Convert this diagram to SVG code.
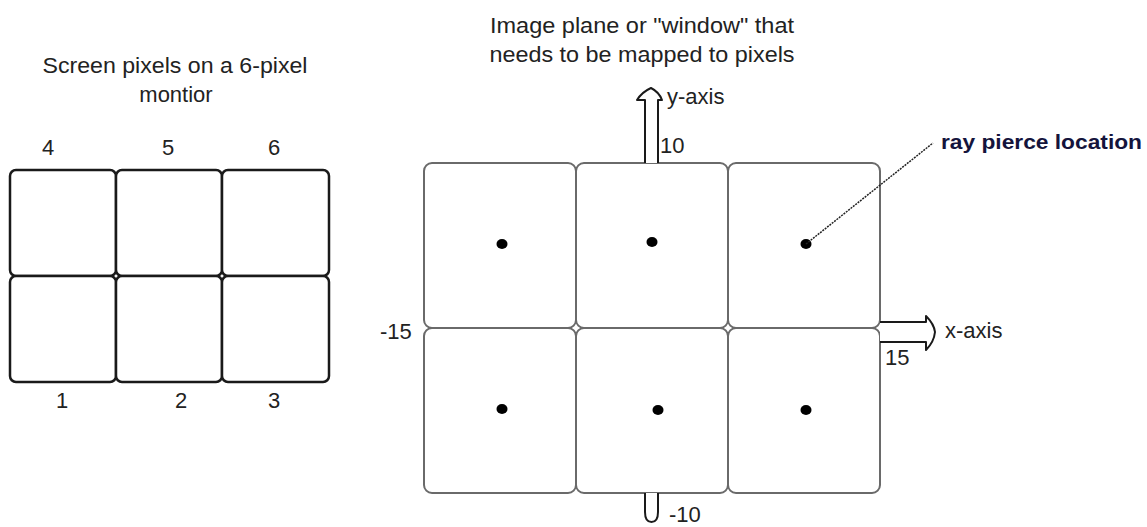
<svg xmlns="http://www.w3.org/2000/svg" width="1147" height="527" viewBox="0 0 1147 527">
<style>
.t{font-family:"Liberation Sans",Arial,sans-serif;font-size:22px;fill:#222}
.lc{fill:#fff;stroke:#1a1a1a;stroke-width:2.5}
.rc{fill:#fff;stroke:#6a6a6a;stroke-width:2}
.ax{fill:#fff;stroke:#1a1a1a;stroke-width:2;stroke-linejoin:round}
.dot{fill:#000}
</style>
<rect width="1147" height="527" fill="#fff"/>
<text class="t" x="175" y="73" text-anchor="middle" textLength="265" lengthAdjust="spacingAndGlyphs">Screen pixels on a 6-pixel</text>
<text class="t" x="176" y="102" text-anchor="middle">montior</text>
<text class="t" x="642" y="33" text-anchor="middle" textLength="304" lengthAdjust="spacingAndGlyphs">Image plane or "window" that</text>
<text class="t" x="642" y="62" text-anchor="middle" textLength="305" lengthAdjust="spacingAndGlyphs">needs to be mapped to pixels</text>
<g id="left-grid">
<g id="px4"><rect class="lc" x="10" y="170" width="106" height="106" rx="6"/></g>
<g id="px5"><rect class="lc" x="116" y="170" width="106" height="106" rx="6"/></g>
<g id="px6"><rect class="lc" x="222" y="170" width="107" height="106" rx="6"/></g>
<g id="px1"><rect class="lc" x="10" y="276" width="106" height="106" rx="6"/></g>
<g id="px2"><rect class="lc" x="116" y="276" width="106" height="106" rx="6"/></g>
<g id="px3"><rect class="lc" x="222" y="276" width="107" height="106" rx="6"/></g>
<text class="t" x="48" y="155" text-anchor="middle">4</text>
<text class="t" x="168" y="155" text-anchor="middle">5</text>
<text class="t" x="274" y="155" text-anchor="middle">6</text>
<text class="t" x="62" y="408" text-anchor="middle">1</text>
<text class="t" x="181" y="408" text-anchor="middle">2</text>
<text class="t" x="274" y="408" text-anchor="middle">3</text>
</g>
<g id="right-grid">
<g id="w4"><rect class="rc" x="424" y="163" width="152" height="165" rx="8"/><ellipse class="dot" cx="502" cy="244" rx="5.5" ry="5"/></g>
<g id="w5"><rect class="rc" x="576" y="163" width="152" height="165" rx="8"/><ellipse class="dot" cx="652" cy="242" rx="5.5" ry="5"/></g>
<g id="w6"><rect class="rc" x="728" y="163" width="152" height="165" rx="8"/><ellipse class="dot" cx="806" cy="244" rx="5.5" ry="5"/></g>
<g id="w1"><rect class="rc" x="424" y="328" width="152" height="165" rx="8"/><ellipse class="dot" cx="502" cy="409" rx="5.5" ry="5"/></g>
<g id="w2"><rect class="rc" x="576" y="328" width="152" height="165" rx="8"/><ellipse class="dot" cx="658" cy="410" rx="5.5" ry="5"/></g>
<g id="w3"><rect class="rc" x="728" y="328" width="152" height="165" rx="8"/><ellipse class="dot" cx="806" cy="410" rx="5.5" ry="5"/></g>
</g>
<g id="connectors">
<path class="ax" d="M645,163 V100 L637,100 Q642,92 651,88 Q659,92 662,100 L658,100 V163"/>
<path class="ax" d="M645,493 V512 Q645,522 651.5,522 Q658,522 658,512 V493"/>
<path class="ax" d="M880,322 H926 L926,316 Q934,324 935,332 Q934,342 926,350 L926,342 H880"/>
<line x1="806" y1="244" x2="933" y2="143" stroke="#222" stroke-width="1.5" stroke-dasharray="2 1"/>
</g>
<text class="t" x="667" y="104">y-axis</text>
<text class="t" x="660" y="153">10</text>
<text class="t" x="945" y="338">x-axis</text>
<text class="t" x="885" y="365">15</text>
<text class="t" x="380" y="339">-15</text>
<text class="t" x="669" y="522" font-size="19">-10</text>
<text x="941" y="149" style="font-family:'Liberation Sans',Arial,sans-serif;font-size:21px;font-weight:bold;fill:#14143c" textLength="201" lengthAdjust="spacingAndGlyphs">ray pierce location</text>
</svg>
